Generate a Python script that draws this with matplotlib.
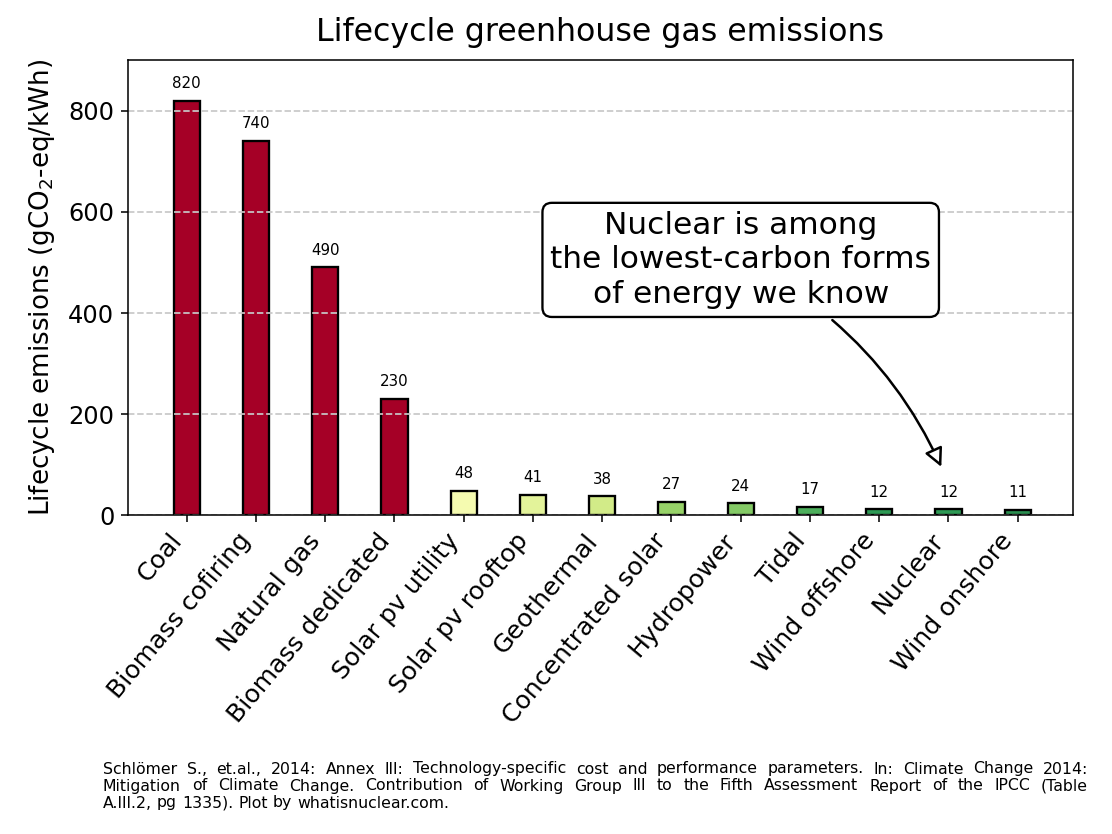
import matplotlib
matplotlib.use("Agg")
import matplotlib.pyplot as plt

# data: IPCC AR5 Annex III, median lifecycle emissions
sources = ["Coal", "Biomass cofiring", "Natural gas", "Biomass dedicated",
           "Solar pv utility", "Solar pv rooftop", "Geothermal",
           "Concentrated solar", "Hydropower", "Tidal", "Wind offshore",
           "Nuclear", "Wind onshore"]
emissions = [820, 740, 490, 230, 48, 41, 38, 27, 24, 17, 12, 12, 11]

bar_colors = ["#a50026", "#a50026", "#a50026", "#a50026",
              "#f5fbb0", "#e3f39a", "#d2eb88", "#97d268", "#84ca66",
              "#4daf5c", "#2e9a55", "#2e9a55", "#2a8f50"]

footnote_lines = [
    "Schlömer S., et.al., 2014: Annex III: Technology-specific cost and performance parameters. In: Climate Change 2014:",
    "Mitigation of Climate Change. Contribution of Working Group III to the Fifth Assessment Report of the IPCC (Table",
    "A.III.2, pg 1335). Plot by whatisnuclear.com.",
]

fig = plt.figure(figsize=(8, 6), dpi=139)
ax = fig.add_axes([0.115, 0.382, 0.85, 0.546])

x = range(len(sources))
bars = ax.bar(x, emissions, width=0.38, color=bar_colors,
              edgecolor="black", linewidth=1.2)
for b, v in zip(bars, emissions):
    ax.annotate(str(v), (b.get_x() + b.get_width() / 2, v),
                xytext=(0, 5), textcoords="offset points",
                ha="center", va="bottom", fontsize=7.8)

ax.set_xlim(-0.85, 12.8)
ax.set_ylim(0, 900)
ax.set_yticks([0, 200, 400, 600, 800])
ax.yaxis.grid(True, linestyle="--", color="#c8c8c8", linewidth=0.9)
ax.set_xticks(list(x))
ax.set_xticklabels(sources, rotation=50, ha="right", fontsize=13)
ax.tick_params(axis="y", labelsize=12.5)
ax.set_ylabel("Lifecycle emissions (gCO$_2$-eq/kWh)", fontsize=13.5, labelpad=6)
ax.set_title("Lifecycle greenhouse gas emissions", fontsize=16.4, pad=10)

ax.annotate("Nuclear is among\nthe lowest-carbon forms\nof energy we know",
            xy=(10.92, 89), xytext=(8.0, 505), ha="center", va="center",
            fontsize=16.2, linespacing=1.25,
            bbox=dict(boxstyle="round,pad=0.25,rounding_size=0.3",
                      fc="white", ec="black", lw=1.2),
            arrowprops=dict(arrowstyle="-|>", fc="white", ec="black", lw=1.3,
                            mutation_scale=20,
                            connectionstyle="arc3,rad=-0.18"))

# justified footnote, placed word by word
fig.canvas.draw()
renderer = fig.canvas.get_renderer()
W, H = fig.bbox.width, fig.bbox.height
left_px, right_px = 103, 1088
line_y = [769, 786, 803]
fs = 8.2
t = fig.text(0, 0, "a a", fontsize=fs)
t2 = fig.text(0, 0, "aa", fontsize=fs)
space_w = (t.get_window_extent(renderer).width
           - t2.get_window_extent(renderer).width)
t.remove()
t2.remove()
for i, line in enumerate(footnote_lines):
    words = line.split(" ")
    objs = [fig.text(0, 0, w, fontsize=fs, va="center") for w in words]
    widths = [o.get_window_extent(renderer).width for o in objs]
    if i < len(footnote_lines) - 1:
        gap = (right_px - left_px - sum(widths)) / (len(words) - 1)
    else:
        gap = space_w
    xpos = left_px
    for o, w in zip(objs, widths):
        o.set_position((xpos / W, 1 - line_y[i] / H))
        xpos += w + gap

fig.savefig("out.png", dpi=139)
